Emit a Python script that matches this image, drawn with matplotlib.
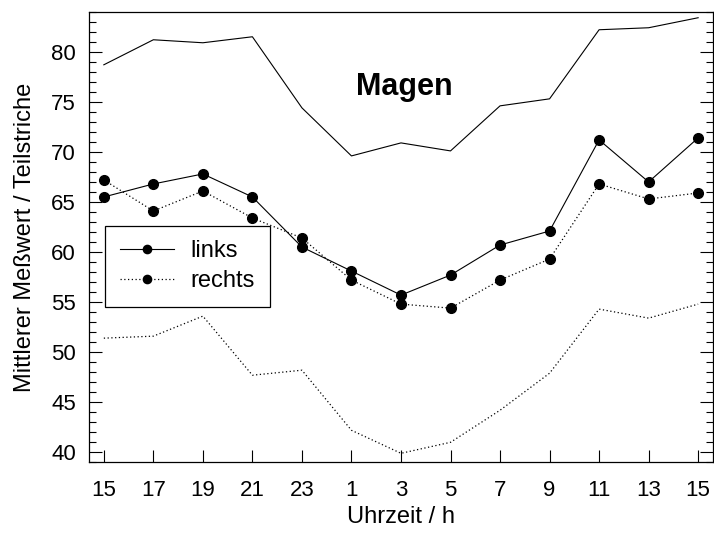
import numpy as np
import matplotlib
matplotlib.use("Agg")
import matplotlib.pyplot as plt
from matplotlib.ticker import MultipleLocator

plt.rcParams['font.family'] = ['Liberation Sans', 'DejaVu Sans']

# Uhrzeit (Stunden), alle 2 h über 24 h
stunden = ["15", "17", "19", "21", "23", "1", "3", "5", "7", "9", "11", "13", "15"]

# Mittelwerte links / rechts
links = [65.5, 66.8, 67.8, 65.5, 60.5, 58.1, 55.7, 57.7, 60.7, 62.1, 71.2, 67.0, 71.4]
rechts = [67.2, 64.1, 66.1, 63.4, 61.4, 57.2, 54.8, 54.4, 57.2, 59.3, 66.8, 65.3, 65.9]

# obere und untere Grenze
obere = [78.7, 81.2, 80.9, 81.5, 74.4, 69.6, 70.9, 70.1, 74.6, 75.3, 82.2, 82.4, 83.4]
untere = [51.4, 51.6, 53.6, 47.7, 48.2, 42.2, 39.9, 41.0, 44.2, 47.9, 54.3, 53.4, 54.8]

x = np.arange(len(stunden))
dots = (0, (1, 2))

fig = plt.figure(figsize=(7.14, 5.33), dpi=100)
ax = fig.add_axes([0.1246, 0.1326, 0.874, 0.8454])

ax.plot(x, obere, color='black', lw=0.8)
ax.plot(x, untere, color='black', lw=0.9, linestyle=dots)
ax.plot(x, links, color='black', lw=0.8, marker='o', ms=7, label='links')
ax.plot(x, rechts, color='black', lw=0.9, linestyle=dots, marker='o', ms=7, label='rechts')

ax.set_xlim(-0.3, 12.3)
ax.set_ylim(39, 84)
ax.set_xticks(x)
ax.set_xticklabels(stunden)
ax.yaxis.set_major_locator(MultipleLocator(5))
ax.yaxis.set_minor_locator(MultipleLocator(1))

ax.tick_params(axis='x', direction='in', length=9, width=0.8, labelsize=16, pad=12.5)
ax.tick_params(axis='y', which='major', direction='in', length=9.5, width=0.8,
               labelsize=16, pad=9.4, right=True)
ax.tick_params(axis='y', which='minor', direction='in', length=5, width=0.8, right=True)
for s in ax.spines.values():
    s.set_linewidth(0.9)

ax.set_xlabel('Uhrzeit / h', fontsize=17, labelpad=4)
ax.set_ylabel('Mittlerer Meßwert / Teilstriche', fontsize=17, labelpad=11)

ax.text(0.505, 0.815, 'Magen', transform=ax.transAxes, fontsize=22,
        fontweight='bold', ha='center', va='baseline')

leg = ax.legend(loc='lower left', bbox_to_anchor=(0.0256, 0.345, 0.264, 0.182),
                mode='expand', fontsize=17, handlelength=2.3, handletextpad=0.7,
                markerscale=0.85, fancybox=False, framealpha=1, borderpad=0.62,
                labelspacing=0.33, borderaxespad=0)
leg.get_frame().set_edgecolor('black')
leg.get_frame().set_linewidth(0.9)

fig.savefig('out.png', dpi=100)
